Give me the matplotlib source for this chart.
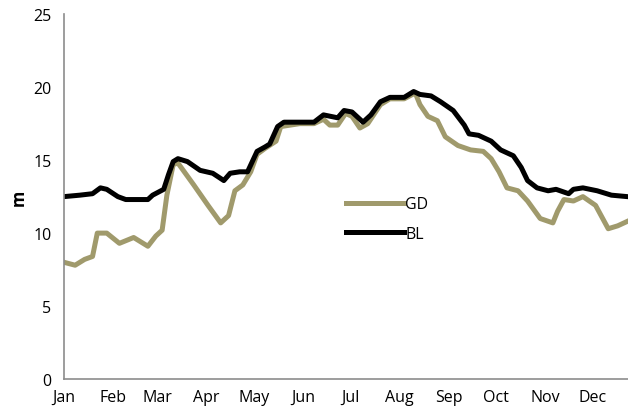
import numpy as np
import matplotlib
matplotlib.use("Agg")
import matplotlib.pyplot as plt

plt.rcParams["font.family"] = ["Open Sans", "DejaVu Sans"]

# day of year, value (m)
bl_day = [0, 10, 18, 23, 27, 34, 39, 53, 56, 63, 66, 69, 72, 78, 86, 94, 101, 105, 111, 116,
          122, 127, 130, 135, 139, 149, 158, 164, 173, 177, 182, 189, 194, 200, 206, 215, 221,
          225, 232, 238, 246, 253, 256, 262, 270, 276, 284, 289, 293, 299, 306, 311, 319, 322,
          328, 337, 346, 356]
bl_val = [12.5, 12.6, 12.7, 13.1, 13.0, 12.5, 12.3, 12.3, 12.6, 13.0, 14.0, 14.9, 15.1, 14.9,
          14.3, 14.1, 13.6, 14.1, 14.2, 14.2, 15.6, 15.9, 16.1, 17.3, 17.6, 17.6, 17.6, 18.1,
          17.9, 18.4, 18.3, 17.6, 18.1, 19.0, 19.3, 19.3, 19.7, 19.5, 19.4, 19.0, 18.4, 17.4,
          16.8, 16.7, 16.3, 15.7, 15.3, 14.5, 13.6, 13.1, 12.9, 13.0, 12.7, 13.0, 13.1, 12.9,
          12.6, 12.5]

gd_day = [0, 7, 13, 18, 21, 27, 35, 44, 53, 58, 62, 65, 69, 72, 82, 91, 99, 104, 108, 113,
          118, 122, 127, 134, 137, 149, 158, 164, 168, 173, 178, 182, 187, 192, 200, 206, 215,
          222, 225, 230, 236, 241, 249, 257, 265, 270, 275, 280, 287, 293, 301, 309, 312, 316,
          322, 328, 336, 344, 350, 356]
gd_val = [8.0, 7.8, 8.2, 8.4, 10.0, 10.0, 9.3, 9.7, 9.1, 9.8, 10.2, 12.6, 14.7, 14.8, 13.3,
          11.9, 10.7, 11.2, 12.9, 13.3, 14.2, 15.4, 15.8, 16.3, 17.3, 17.5, 17.5, 17.8, 17.4,
          17.4, 18.2, 18.0, 17.2, 17.5, 18.8, 19.2, 19.2, 19.6, 18.8, 18.0, 17.7, 16.6, 16.0,
          15.7, 15.6, 15.1, 14.2, 13.1, 12.9, 12.2, 11.0, 10.7, 11.5, 12.3, 12.2, 12.5, 11.9,
          10.3, 10.5, 10.8]

month_start = [0, 31, 59, 90, 120, 151, 181, 212, 243, 273, 304, 334]
month_names = ["Jan", "Feb", "Mar", "Apr", "May", "Jun", "Jul", "Aug", "Sep", "Oct", "Nov", "Dec"]

fig = plt.figure(figsize=(6.28, 4.10), dpi=100)
ax = fig.add_axes([0.102, 0.073, 0.898, 0.89])

ax.plot(gd_day, gd_val, color="#a09a6c", lw=3.6, label="GD", solid_joinstyle="round")
ax.plot(bl_day, bl_val, color="black", lw=3.6, label="BL", solid_joinstyle="round")

ax.set_xlim(0, 356.5)
ax.set_ylim(0, 25)
ax.set_yticks([0, 5, 10, 15, 20, 25])
ax.set_xticks(month_start)
ax.set_xticklabels(month_names)
ax.tick_params(length=0, labelsize=11.5, colors="black")
ax.tick_params(axis="x", pad=7)
ax.tick_params(axis="y", pad=9)

for s in ["top", "right"]:
    ax.spines[s].set_visible(False)
for s in ["left", "bottom"]:
    ax.spines[s].set_color("#8c8c8c")
    ax.spines[s].set_linewidth(1.2)

ax.set_ylabel("m", fontsize=12, fontweight="bold", labelpad=4)

ax.legend(loc="upper left", bbox_to_anchor=(0.475, 0.54), frameon=False, fontsize=11.5,
          handlelength=3.6, handletextpad=0.1, labelspacing=0.85)

fig.savefig("out.png", dpi=100)
